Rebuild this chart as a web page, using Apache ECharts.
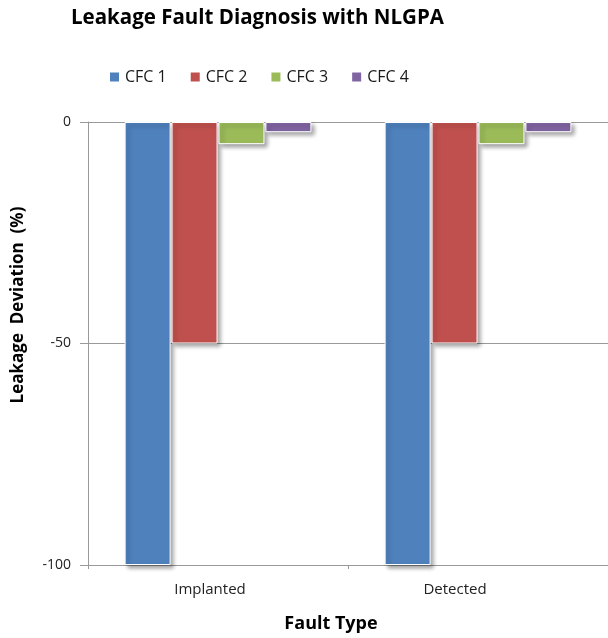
<!DOCTYPE html>
<html><head><meta charset="utf-8">
<script src="https://cdn.jsdelivr.net/npm/echarts@6/dist/echarts.min.js"></script>
<style>html,body{margin:0;padding:0;background:#fff}#c{width:608px;height:638px}</style>
</head><body><div id="c"></div>
<script>
var categories = ['Implanted', 'Detected'];
var seriesNames = ['CFC 1', 'CFC 2', 'CFC 3', 'CFC 4'];
var cfc1 = [-100, -100];
var cfc2 = [-50, -50];
var cfc3 = [-5, -5];
var cfc4 = [-2.3, -2.3];
var yTicks = [0, -50, -100];

var colors = ['#4F81BD', '#C0504D', '#9BBB59', '#8064A2'];
var data = [cfc1, cfc2, cfc3, cfc4];
var chart = echarts.init(document.getElementById('c'));
var font = "'Open Sans', 'DejaVu Sans', sans-serif";
chart.setOption({
  animation: false,
  color: colors,
  title: {
    text: 'Leakage Fault Diagnosis with NLGPA', left: 66, top: 3,
    textStyle: {fontFamily: font, fontWeight: 'bold', fontSize: 20.5, color: '#000'}
  },
  legend: {
    data: seriesNames, top: 64, left: 103, itemWidth: 11, itemHeight: 11, itemGap: 22,
    icon: 'rect',
    textStyle: {fontFamily: font, fontSize: 16, color: '#1a1a1a'}
  },
  graphic: [
    {type: 'text', x: 18, y: 305, rotation: Math.PI / 2,
     style: {text: 'Leakage  Deviation  (%)', font: "bold 17px 'Open Sans', sans-serif", fill: '#000',
       textAlign: 'center', textVerticalAlign: 'middle'}},
    {type: 'text', x: 331, y: 624,
     style: {text: 'Fault Type', font: "bold 18px 'Open Sans', sans-serif", fill: '#000',
       textAlign: 'center', textVerticalAlign: 'middle'}}
  ],
  grid: {left: 88, right: 0, top: 122, bottom: 73, containLabel: false},
  xAxis: {
    type: 'category', data: categories, position: 'bottom',
    axisLine: {onZero: false, lineStyle: {color: '#999'}},
    axisTick: {show: true, length: 4, lineStyle: {color: '#999'}},
    axisLabel: {fontFamily: font, fontSize: 15, color: '#222', margin: 17,
      formatter: function (v) { return v === 'Implanted' ? '{a|' + v + '}' : '{b|' + v + '}'; },
      rich: {
        a: {fontFamily: font, fontSize: 15, color: '#222', padding: [0, 16, 0, 0]},
        b: {fontFamily: font, fontSize: 15, color: '#222', padding: [0, 46, 0, 0]}
      }}
  },
  yAxis: {
    type: 'value', min: -100, max: 0, interval: 50,
    axisLine: {show: true, lineStyle: {color: '#999'}},
    axisTick: {show: true, length: 8, inside: false, lineStyle: {color: '#999'}},
    axisLabel: {fontFamily: font, fontSize: 14, color: '#222', margin: 17,
      formatter: function (v) { return yTicks.indexOf(v) >= 0 ? String(v) : ''; }},
    splitLine: {show: true, lineStyle: {color: '#999'}}
  },
  series: seriesNames.map(function (n, i) {
    return {
      name: n, type: 'bar', data: data[i], barWidth: 46, barGap: '2%',
      itemStyle: {color: colors[i], borderColor: '#fff', borderWidth: 1,
        shadowColor: 'rgba(0,0,0,0.35)', shadowBlur: 4, shadowOffsetX: 3, shadowOffsetY: 3}
    };
  })
});
</script></body></html>
